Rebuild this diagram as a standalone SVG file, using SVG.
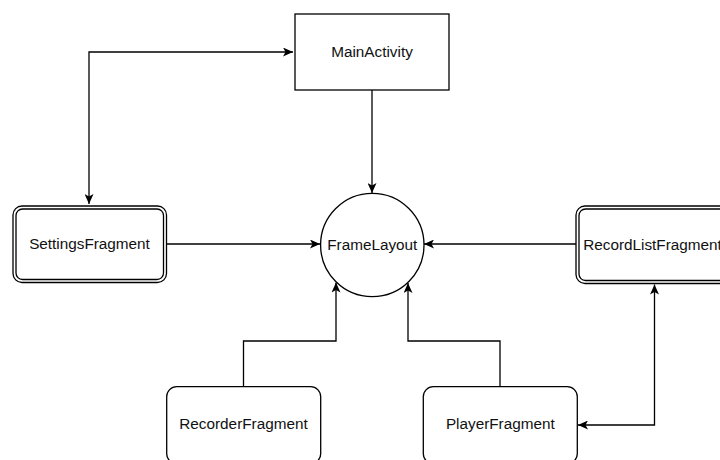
<svg xmlns="http://www.w3.org/2000/svg" width="720" height="460" viewBox="0 0 720 460">
<defs>
<marker id="arr" viewBox="0 0 10 9" markerWidth="10" markerHeight="9" refX="10" refY="4.5" orient="auto-start-reverse" markerUnits="userSpaceOnUse">
<path d="M0,0 L10,4.5 L0,9 L2.5,4.5 Z" fill="#000"/>
</marker>
<style>
.box{fill:#fff;stroke:#000;stroke-width:1.3}
.lbl{font-family:"Liberation Sans",Arial,sans-serif;font-size:15.3px;fill:#111;text-anchor:middle;dominant-baseline:central}
.edge{fill:none;stroke:#000;stroke-width:1.3}
</style>
</defs>
<rect width="720" height="460" fill="#fff"/>
<g id="connectors">
<path class="edge" d="M89,204 L89,52 L293,52" marker-start="url(#arr)" marker-end="url(#arr)"/>
<path class="edge" d="M372,90 L372,193" marker-end="url(#arr)"/>
<path class="edge" d="M166,244 L320,244" marker-end="url(#arr)"/>
<path class="edge" d="M576,244 L424,244" marker-end="url(#arr)"/>
<path class="edge" d="M243.5,387 L243.5,341 L336,341 L336,282.5" marker-end="url(#arr)"/>
<path class="edge" d="M500,387 L500,341 L408,341 L408,283" marker-end="url(#arr)"/>
<path class="edge" d="M654.5,284.5 L654.5,425 L578,425" marker-start="url(#arr)" marker-end="url(#arr)"/>
</g>
<g id="MainActivity">
<rect class="box" x="295" y="14" width="154" height="76"/>
<text class="lbl" x="372" y="51">MainActivity</text>
</g>
<g id="FrameLayout">
<circle class="box" cx="372.3" cy="245" r="51.7"/>
<text class="lbl" x="372.3" y="244">FrameLayout</text>
</g>
<g id="SettingsFragment">
<rect class="box" x="13" y="206" width="153.5" height="76.5" rx="9"/>
<rect class="box" x="16" y="209" width="147.5" height="70.5" rx="6.5"/>
<text class="lbl" x="89.5" y="243.5">SettingsFragment</text>
</g>
<g id="RecordListFragment">
<rect class="box" x="576" y="206" width="153.5" height="77.5" rx="9"/>
<rect class="box" x="579" y="209" width="147.5" height="71.5" rx="6.5"/>
<text class="lbl" x="652.5" y="244">RecordListFragment</text>
</g>
<g id="RecorderFragment">
<rect class="box" x="166.7" y="386.7" width="154" height="77" rx="10"/>
<text class="lbl" x="243.5" y="423.5">RecorderFragment</text>
</g>
<g id="PlayerFragment">
<rect class="box" x="423.3" y="386.7" width="154" height="77" rx="10"/>
<text class="lbl" x="500.3" y="423.5">PlayerFragment</text>
</g>
</svg>
